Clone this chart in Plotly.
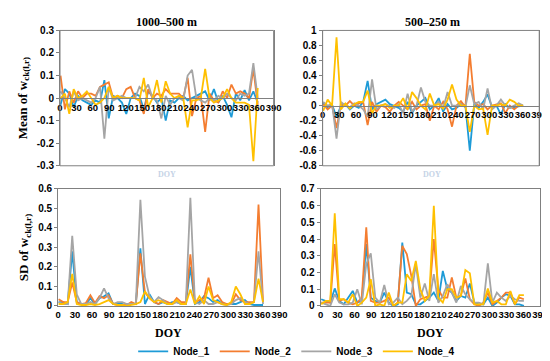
import plotly.graph_objects as go

doy = [1 + 8 * i for i in range(46)]
nodes = ["Node_1", "Node_2", "Node_3", "Node_4"]
colors = ["#1E9BD7", "#F47D30", "#A5A5A5", "#FFC000"]
panel_titles = ["1000\u2013500 m", "500\u2013250 m"]

mean_1000_500 = {
    "Node_1": [-0.03, 0.04, 0.02, -0.04, 0.01, -0.01, -0.02, -0.03, -0.01, -0.02, 0.08, -0.09, 0.01, 0.0, -0.02, -0.07, 0.0, 0.02, 0.01, -0.05, 0.03, 0.01, -0.02, 0.0, -0.10, -0.01, -0.02, 0.0, 0.01, -0.01, 0.0, 0.01, 0.02, 0.03, -0.01, 0.04, -0.02, 0.01, -0.03, -0.085, 0.02, -0.01, 0.035, -0.01, 0.03, -0.02],
    "Node_2": [0.10, -0.05, 0.03, -0.02, 0.03, 0.0, 0.02, 0.02, 0.01, 0.05, 0.06, 0.07, 0.0, 0.01, 0.0, 0.04, 0.05, 0.0, -0.01, -0.07, 0.04, 0.0, 0.02, 0.01, 0.04, 0.02, 0.02, 0.02, 0.0, 0.09, -0.08, 0.0, 0.01, -0.15, 0.02, -0.01, -0.02, 0.03, 0.0, 0.06, 0.02, 0.03, 0.02, 0.0, 0.13, -0.03],
    "Node_3": [0.03, 0.0, -0.04, 0.03, -0.01, 0.0, -0.01, -0.02, 0.0, 0.05, -0.18, 0.05, -0.01, 0.0, 0.01, 0.0, 0.0, 0.0, 0.05, 0.03, 0.06, 0.0, -0.01, -0.09, 0.01, -0.03, 0.0, 0.0, -0.01, 0.10, 0.125, 0.0, -0.01, -0.02, 0.0, -0.01, 0.01, 0.0, 0.02, 0.0, -0.01, 0.02, 0.01, 0.02, 0.155, 0.0],
    "Node_4": [0.0, 0.02, -0.07, 0.04, 0.0, 0.01, 0.03, 0.0, -0.03, -0.02, 0.0, 0.05, 0.0, 0.01, 0.0, 0.0, 0.0, 0.0, -0.01, 0.09, -0.04, 0.0, 0.08, -0.02, 0.075, 0.02, 0.0, 0.01, 0.0, -0.13, -0.01, -0.01, 0.0, 0.13, 0.0, -0.02, -0.01, 0.0, 0.04, 0.0, -0.02, -0.02, -0.02, -0.03, -0.28, 0.045],
}
mean_500_250 = {
    "Node_1": [0.03, -0.02, 0.01, -0.15, 0.0, 0.02, -0.05, 0.0, -0.03, 0.05, 0.33, -0.05, 0.02, 0.05, 0.08, 0.02, 0.0, -0.03, -0.08, 0.05, -0.1, 0.0, 0.05, 0.10, -0.05, 0.0, 0.10, -0.08, 0.02, -0.05, -0.03, 0.02, 0.0, -0.60, 0.02, -0.03, 0.05, 0.15, -0.02, 0.0, -0.12, 0.02, -0.03, -0.02, 0.0, 0.0],
    "Node_2": [0.02, -0.05, 0.0, -0.30, 0.02, 0.0, 0.06, 0.0, 0.03, 0.05, -0.26, 0.05, -0.08, 0.0, -0.02, -0.08, 0.0, 0.05, 0.0, -0.05, 0.05, -0.05, 0.0, 0.02, -0.2, 0.0, -0.05, 0.05, -0.05, -0.28, 0.0, 0.06, -0.02, 0.69, 0.05, 0.0, 0.02, -0.05, 0.0, 0.02, 0.03, -0.1, 0.0, -0.05, 0.0, 0.0],
    "Node_3": [0.05, 0.0, 0.02, -0.44, 0.05, 0.0, -0.02, 0.03, 0.0, -0.05, -0.15, 0.35, -0.05, 0.0, 0.02, 0.0, -0.03, 0.02, -0.1, 0.16, -0.08, 0.0, 0.24, 0.05, 0.0, 0.0, 0.05, -0.03, 0.18, 0.0, 0.0, 0.02, -0.02, 0.27, 0.02, 0.05, -0.05, 0.23, -0.05, 0.0, 0.08, 0.0, -0.03, 0.0, 0.03, 0.0],
    "Node_4": [-0.07, 0.08, 0.0, 0.91, -0.05, 0.03, -0.04, 0.02, 0.05, 0.05, 0.20, -0.1, 0.0, 0.0, 0.02, -0.03, 0.0, 0.0, 0.10, -0.05, 0.18, 0.1, 0.0, -0.05, 0.16, 0.0, 0.02, -0.04, 0.08, 0.28, 0.08, 0.0, 0.0, -0.35, 0.0, -0.05, -0.04, -0.39, 0.0, 0.0, 0.02, 0.0, 0.08, 0.05, 0.0, 0.0],
}
sd_1000_500 = {
    "Node_1": [0.02, 0.02, 0.01, 0.28, 0.02, 0.01, 0.01, 0.04, 0.01, 0.04, 0.05, 0.065, 0.01, 0.01, 0.01, 0.0, 0.01, 0.01, 0.295, 0.01, 0.06, 0.02, 0.01, 0.02, 0.01, 0.02, 0.02, 0.01, 0.01, 0.2, 0.01, 0.02, 0.05, 0.04, 0.02, 0.03, 0.01, 0.01, 0.01, 0.01, 0.02, 0.03, 0.01, 0.005, 0.005, 0.005],
    "Node_2": [0.035, 0.02, 0.02, 0.12, 0.02, 0.01, 0.015, 0.055, 0.015, 0.05, 0.04, 0.055, 0.01, 0.005, 0.005, 0.005, 0.02, 0.01, 0.27, 0.07, 0.04, 0.02, 0.01, 0.03, 0.02, 0.01, 0.04, 0.02, 0.02, 0.265, 0.02, 0.03, 0.04, 0.145, 0.04, 0.055, 0.02, 0.01, 0.01, 0.06, 0.03, 0.02, 0.02, 0.02, 0.52, 0.02],
    "Node_3": [0.02, 0.01, 0.01, 0.36, 0.06, 0.01, 0.01, 0.02, 0.01, 0.04, 0.09, 0.04, 0.01, 0.02, 0.02, 0.01, 0.01, 0.01, 0.545, 0.15, 0.05, 0.02, 0.045, 0.03, 0.01, 0.01, 0.02, 0.01, 0.01, 0.555, 0.02, 0.01, 0.03, 0.01, 0.01, 0.02, 0.01, 0.005, 0.01, 0.03, 0.04, 0.02, 0.01, 0.02, 0.28, 0.01],
    "Node_4": [0.01, 0.01, 0.02, 0.165, 0.01, 0.005, 0.005, 0.01, 0.005, 0.01, 0.02, 0.03, 0.01, 0.005, 0.005, 0.0, 0.005, 0.01, 0.02, 0.075, 0.04, 0.02, 0.03, 0.02, 0.01, 0.01, 0.03, 0.01, 0.01, 0.085, 0.01, 0.05, 0.01, 0.10, 0.03, 0.02, 0.01, 0.005, 0.02, 0.10, 0.06, 0.01, 0.01, 0.02, 0.14, 0.02],
}
sd_500_250 = {
    "Node_1": [0.04, 0.03, 0.02, 0.105, 0.03, 0.01, 0.05, 0.09, 0.02, 0.03, 0.37, 0.05, 0.03, 0.02, 0.08, 0.02, 0.0, 0.01, 0.38, 0.08, 0.07, 0.01, 0.01, 0.03, 0.05, 0.08, 0.03, 0.21, 0.1, 0.08, 0.03, 0.06, 0.05, 0.135, 0.02, 0.01, 0.01, 0.05, 0.0, 0.02, 0.05, 0.07, 0.06, 0.01, 0.01, 0.0],
    "Node_2": [0.02, 0.02, 0.02, 0.37, 0.03, 0.04, 0.02, 0.01, 0.02, 0.05, 0.47, 0.03, 0.02, 0.02, 0.03, 0.05, 0.0, 0.02, 0.36, 0.31, 0.18, 0.0, 0.04, 0.05, 0.06, 0.40, 0.1, 0.05, 0.05, 0.17, 0.05, 0.06, 0.165, 0.04, 0.01, 0.0, 0.02, 0.08, 0.01, 0.03, 0.05, 0.08, 0.08, 0.01, 0.05, 0.04],
    "Node_3": [0.02, 0.01, 0.0, 0.07, 0.02, 0.01, 0.01, 0.02, 0.1, 0.01, 0.25, 0.315, 0.05, 0.02, 0.125, 0.01, 0.02, 0.05, 0.01, 0.03, 0.06, 0.25, 0.05, 0.135, 0.03, 0.19, 0.02, 0.06, 0.13, 0.08, 0.02, 0.12, 0.07, 0.04, 0.02, 0.02, 0.01, 0.255, 0.02, 0.08, 0.05, 0.03, 0.06, 0.04, 0.03, 0.03],
    "Node_4": [0.01, 0.03, 0.03, 0.555, 0.04, 0.04, 0.02, 0.07, 0.0, 0.02, 0.05, 0.16, 0.0, 0.01, 0.0, 0.08, 0.0, 0.02, 0.02, 0.19, 0.15, 0.27, 0.1, 0.03, 0.06, 0.60, 0.05, 0.02, 0.1, 0.1, 0.05, 0.06, 0.215, 0.195, 0.01, 0.01, 0.01, 0.105, 0.02, 0.03, 0.01, 0.01, 0.09, 0.01, 0.065, 0.065],
}

x_ticks = list(range(0, 391, 30))
y_ticks_tl = [0.3, 0.2, 0.1, 0, -0.1, -0.2, -0.3]
y_ticks_tr = [1, 0.8, 0.6, 0.4, 0.2, 0, -0.2, -0.4, -0.6, -0.8]
y_ticks_bl = [0, 0.1, 0.2, 0.3, 0.4, 0.5, 0.6]
y_ticks_br = [0, 0.1, 0.2, 0.3, 0.4, 0.5, 0.6, 0.7]

W, H = 550, 361
def px_x(a, b):
    return [a / W, b / W]
def px_y(top, bottom):
    return [1 - bottom / H, 1 - top / H]

panels = [
    dict(data=mean_1000_500, xd=px_x(50, 268), yd=px_y(17, 157), yr=[-0.3, 0.3], yt=y_ticks_tl, top=True),
    dict(data=mean_500_250, xd=px_x(318, 539), yd=px_y(17, 157), yr=[-0.8, 1.0], yt=y_ticks_tr, top=True),
    dict(data=sd_1000_500, xd=px_x(48, 274), yd=px_y(181, 302), yr=[0, 0.6], yt=y_ticks_bl, top=False),
    dict(data=sd_500_250, xd=px_x(316, 540), yd=px_y(181, 302), yr=[0, 0.7], yt=y_ticks_br, top=False),
]

def fmt(v):
    return "%g" % v

fig = go.Figure()
xtickfont = dict(family="Liberation Sans, Arial", size=9.5, color="#000000", weight="bold")
ytickfont = dict(family="Liberation Sans, Arial", size=10, color="#000000", weight="bold")
layout = {}
shapes = []
for k, p in enumerate(panels):
    n = "" if k == 0 else str(k + 1)
    for j, node in enumerate(nodes):
        fig.add_trace(go.Scatter(
            x=doy, y=p["data"][node], mode="lines", name=node,
            line=dict(color=colors[j], width=1.8),
            xaxis="x" + n, yaxis="y" + n, showlegend=(k == 0),
        ))
    y0, y1 = p["yd"]
    lo, hi = p["yr"]
    xa = dict(domain=p["xd"], range=[0, 390], tickvals=x_ticks,
              ticktext=[str(t) for t in x_ticks], tickfont=xtickfont, tickangle=0,
              showgrid=False, zeroline=False, showline=True,
              linecolor="#808080", linewidth=1, ticks="", ticklen=0)
    if p["top"]:
        zero_pos = y0 + (0 - lo) / (hi - lo) * (y1 - y0)
        xa.update(anchor="free", position=zero_pos)
        shapes.append(dict(type="rect", xref="x%s domain" % n, yref="y%s domain" % n,
                           x0=0, x1=1, y0=0, y1=1, line=dict(color="#808080", width=1),
                           layer="above"))
    else:
        xa.update(anchor="y" + n, mirror=True)
    ya = dict(domain=p["yd"], range=[lo, hi], tickvals=p["yt"],
              ticktext=[fmt(t) for t in p["yt"]], tickfont=ytickfont,
              showgrid=False, zeroline=False, showline=True, mirror=True,
              linecolor="#808080", linewidth=1, ticks="outside", ticklen=3,
              tickcolor="#808080", anchor="x" + n)
    layout["xaxis" + n] = xa
    layout["yaxis" + n] = ya

fig.update_layout(**layout)
ytitle_font = dict(family="Liberation Serif, Times New Roman", size=13, color="#000", weight="bold")
fig.layout.yaxis.title = dict(text="Mean of w<sub>ck(l,r)</sub>", font=ytitle_font, standoff=6)
fig.layout.yaxis3.title = dict(text="SD of w<sub>ck(l,r)</sub>", font=ytitle_font, standoff=6)

serif_b = dict(family="Liberation Serif, Times New Roman", size=12, color="#000")
faint = dict(family="Liberation Serif, Times New Roman", size=8, color="#C5D3E6")
annotations = [
    dict(text="<b>%s</b>" % panel_titles[0], x=159 / W, y=1 - 8 / H, font=serif_b),
    dict(text="<b>%s</b>" % panel_titles[1], x=430 / W, y=1 - 8 / H, font=serif_b),
    dict(text="<b>DOY</b>", x=159 / W, y=1 - 166 / H, font=faint),
    dict(text="<b>DOY</b>", x=430 / W, y=1 - 166 / H, font=faint),
    dict(text="<b>DOY</b>", x=161 / W, y=1 - 330 / H, font=serif_b),
    dict(text="<b>DOY</b>", x=428 / W, y=1 - 330 / H, font=serif_b),
]
for a in annotations:
    a.update(xref="paper", yref="paper", showarrow=False, xanchor="center", yanchor="middle")

fig.update_layout(
    width=W, height=H, margin=dict(l=0, r=0, t=0, b=0),
    paper_bgcolor="white", plot_bgcolor="white",
    shapes=shapes, annotations=annotations,
    legend=dict(orientation="h", x=0.53, xanchor="center", y=1 - 349 / H, yanchor="middle",
                font=dict(family="Liberation Sans, Arial", size=10, color="#000", weight="bold"),
                itemwidth=30, tracegroupgap=0, bgcolor="rgba(0,0,0,0)"),
)
fig.write_html("out.html")
